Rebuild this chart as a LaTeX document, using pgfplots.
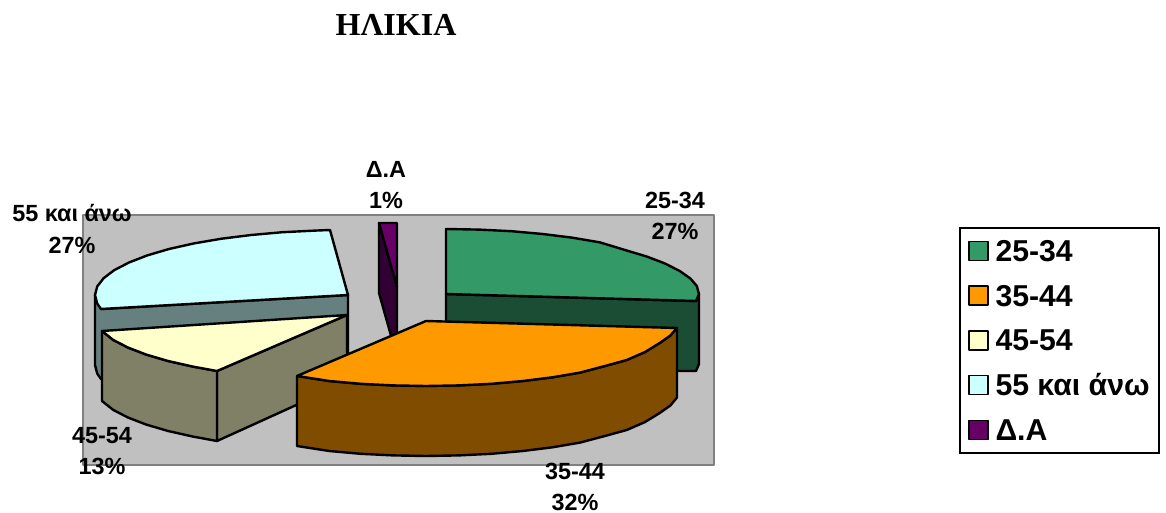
\documentclass[border=0pt]{standalone}
\usepackage{fontspec}
\setmainfont{Liberation Sans}
\newfontfamily\titlefont{Liberation Serif}
\usepackage{pgfplots}
\pgfplotsset{compat=1.18}
\definecolor{cgreen}{HTML}{339966}\definecolor{dgreen}{HTML}{1A4D33}
\definecolor{corange}{HTML}{FF9900}\definecolor{dorange}{HTML}{804D00}
\definecolor{ccream}{HTML}{FFFFCC}\definecolor{dcream}{HTML}{808066}
\definecolor{ccyan}{HTML}{CCFFFF}\definecolor{dcyan}{HTML}{668080}
\definecolor{cpurple}{HTML}{660066}\definecolor{dpurple}{HTML}{330033}
\definecolor{cbg}{HTML}{C0C0C0}
\begin{document}
\begin{tikzpicture}
\begin{axis}[
  scale only axis, width=1166pt, height=513pt,
  xmin=0, xmax=1166, ymin=0, ymax=513, y dir=reverse,
  axis lines=none, clip=false,
  every axis plot/.append style={line width=2.4pt, draw=black, line join=round, mark=none, forget plot},
  legend image code/.code={\draw[line width=1.6pt,draw=black,#1] (0pt,-9.5pt) rectangle (19pt,9.5pt);\path (24pt,0pt);},
  legend style={at={(axis cs:959,227)}, anchor=north west, draw=black, line width=2pt, fill=white,
    inner xsep=8pt, inner ysep=11pt, row sep=20.7pt,
    font=\fontsize{30.2}{32}\selectfont\bfseries, cells={anchor=west},
    nodes={inner sep=1.5pt, text height=21pt, text depth=0pt}},
  legend cell align=left,
]
% full picture extent
\addplot[draw=none] coordinates {(0,0)(1166,513)};
% plot area
\addplot[fill=cbg, draw=black!50, line width=2.6pt] coordinates {(83,215)(714,215)(714,465)(83,465)} -- cycle;
% 25-34 side and top
\addplot[fill=dgreen] coordinates {(446,294)(696,301)(699,294)(699,364)(696,371)(446,371)} -- cycle;
\addplot[fill=cgreen] coordinates {(446,229)(479,229.6)(511.5,231.2)(542.8,234)(572.5,237.7)(600,242.4)(625,250)(646.7,256.5)(665,263.5)(679.7,271)(690.4,278.5)(696.8,286)(699,294)(696,301)(446,294)} -- cycle;
% D.A
\addplot[fill=dpurple] coordinates {(379,223)(397,287)(397,357)(379,293)} -- cycle;
\addplot[fill=cpurple] coordinates {(379,223)(397,223)(397,287)} -- cycle;
% 55 kai ano
\addplot[fill=dcyan] coordinates {(101,309)(348,295)(348,366)(101,379)(97.2,373.5)(95,365)(95,295)} -- cycle;
\addplot[fill=ccyan] coordinates {(330,230)(315,230.6)(282.5,232.2)(251.2,235)(221.5,238.7)(194,243.4)(169,249)(147.3,255.4)(129,262.5)(114.3,270.1)(103.6,278.2)(97.2,286.5)(95,295)(97.2,303.5)(101,309)(348,295)} -- cycle;
% 45-54
\addplot[fill=dcream] coordinates {(217,371)(347,315)(347,382)(217,441)} -- cycle;
\addplot[fill=dcream] coordinates {(102,331)(113.2,339.9)(127.9,347.5)(146.3,354.6)(168.1,361)(193,366.6)(217,371)(217,441)(193,436.6)(168.1,431)(146.3,424.6)(127.9,417.5)(113.2,409.9)(102,401)} -- cycle;
\addplot[fill=ccream] coordinates {(102,331)(347,315)(217,371)(193,366.6)(168.1,361)(146.3,354.6)(127.9,347.5)(113.2,339.9)} -- cycle;
% 35-44
\addplot[fill=dorange] coordinates {(297,376)(329.2,381)(360.5,383.8)(393,385.4)(426,386)(459,385.4)(491.5,383.8)(522.8,381)(552.5,377.3)(580,372.6)(604.9,366)(626.7,360)(645.1,352)(659.7,343)(670.4,335.5)(677,328)(677,397.5)(670.4,405.5)(659.7,413)(645.1,422)(626.7,430)(604.9,436)(580,442.6)(552.5,447.3)(522.8,451)(491.5,453.8)(459,455.4)(426,456)(393,455.4)(360.5,453.8)(329.2,451)(297,446)} -- cycle;
\addplot[fill=corange] coordinates {(426,321)(677,328)(670.4,335.5)(659.7,343)(645.1,352)(626.7,360)(604.9,366)(580,372.6)(552.5,377.3)(522.8,381)(491.5,383.8)(459,385.4)(426,386)(393,385.4)(360.5,383.8)(329.2,381)(297,376)} -- cycle;
% legend
\addlegendimage{fill=cgreen}\addlegendentry{25-34}
\addlegendimage{fill=corange}\addlegendentry{35-44}
\addlegendimage{fill=ccream}\addlegendentry{45-54}
\addlegendimage{fill=ccyan}\addlegendentry{55 και άνω}
\addlegendimage{fill=cpurple}\addlegendentry{Δ.Α}
% texts
\node[font=\titlefont\bfseries\fontsize{32}{34}\selectfont] at (axis cs:396,25) {ΗΛΙΚΙΑ};
\begin{scope}[every node/.style={font=\bfseries\fontsize{23.4}{31.5}\selectfont, align=center, inner sep=0pt}]
\node at (axis cs:72,229) {55 και άνω\\27\%};
\node at (axis cs:675,216) {25-34\\27\%};
\node at (axis cs:386,185) {Δ.Α\\1\%};
\node at (axis cs:102,451) {45-54\\13\%};
\node at (axis cs:575,487) {35-44\\32\%};
\end{scope}
\end{axis}
\end{tikzpicture}
\end{document}
